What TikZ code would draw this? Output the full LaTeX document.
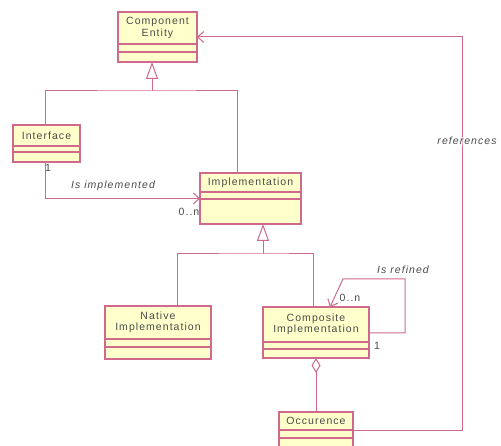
\documentclass[tikz,border=0pt]{standalone}
\usepackage{fontspec}
\setmainfont{Liberation Sans}[LetterSpace=10]
\usetikzlibrary{arrows.meta,calc}

\definecolor{umlline}{HTML}{D06A8C}
\definecolor{umlfill}{HTML}{FFFFCC}
\definecolor{umltext}{HTML}{4A4A4A}

\tikzset{
  clsbox/.style={draw=umlline, fill=umlfill, line width=1.1pt, inner sep=0pt, outer sep=0pt},
  clsline/.style={draw=umlline, line width=1.1pt},
  clstext/.style={text=umltext, font=\fontsize{10.5}{11.5}\selectfont, align=center, inner sep=0pt},
  conn/.style={draw=umlline, line width=1pt},
  tag/.style={text=umltext, font=\fontsize{10.5}{12}\selectfont, inner sep=0pt},
  roletag/.style={tag, font=\fontsize{10.5}{12}\selectfont\itshape},
  gentip/.style={-{Triangle[open, length=17pt, width=12pt, fill=white]}},
  navtip/.style={-{Straight Barb[length=6pt, width=11pt]}},
}

% #1 name, #2 left x, #3 top y, #4 width, #5 height,
% #6 and #7 offsets of the compartment rules from the top, #8 class name
\newcommand\umlclass[8]{%
  \node[clsbox, minimum width=#4pt, minimum height=#5pt, anchor=north west] (#1) at (#2,#3) {};
  \draw[clsline] ([yshift=-#6pt]#1.north west) -- ([yshift=-#6pt]#1.north east);
  \draw[clsline] ([yshift=-#7pt]#1.north west) -- ([yshift=-#7pt]#1.north east);
  \node[clstext] (#1-name) at ([yshift=-#6pt/2]#1.north) {#8};
}

\begin{document}
\begin{tikzpicture}[x=1pt, y=-1pt]
  \useasboundingbox (0,0) rectangle (501,446);
  \begin{scope}
  \clip (0,0) rectangle (501,446);

  % classes
  \umlclass{entity}{118}{12}{79}{50}{32}{40}{Component\\Entity}
  \umlclass{iface}{13}{125}{67}{37}{21}{27}{Interface}
  \umlclass{impl}{200}{173}{101}{51}{19}{26}{Implementation}
  \umlclass{native}{105}{306}{106}{53}{33}{41}{Native\\Implementation}
  \umlclass{comp}{263}{307}{106}{51}{35}{42}{Composite\\Implementation}
  \umlclass{occ}{279}{412}{74}{36}{18}{26}{Occurence}

  % generalization: Interface, Implementation -> Component Entity
  \coordinate (genA) at (152,91);
  \draw[conn] ([xshift=-1.5pt]iface.north) |- (genA) -| ([xshift=37pt]impl.north west);
  \draw[conn, gentip] (genA) -- ([xshift=-5.5pt]entity.south);

  % generalization: Native, Composite -> Implementation
  \coordinate (genB) at (263,254);
  \draw[conn] ([xshift=72pt]native.north west) |- (genB) -| ([xshift=-3pt]comp.north);
  \draw[conn, gentip] (genB) -- ([xshift=12.5pt]impl.south);

  % Interface "Is implemented" Implementation
  \draw[conn, navtip] ([xshift=-1.5pt]iface.south) |- (impl.west);
  \node[tag] (iface-mult) at (48,168) {1};
  \node[roletag] (impl-role) at (113,186) {Is implemented};
  \node[tag] (impl-mult) at (189,212) {0..n};

  % Composite "Is refined" self association
  \coordinate (loopA) at (405,333);
  \coordinate (loopB) at (405,279);
  \coordinate (loopC) at (343,279);
  \draw[conn, navtip] (comp.east |- loopA) -- (loopA) -- (loopB) -- (loopC)
    -- ([xshift=67pt]comp.north west);
  \node[roletag] (comp-role) at (403,270) {Is refined};
  \node[tag] (comp-many) at (350,298) {0..n};
  \node[tag] (comp-one) at (377,346) {1};

  % aggregation Composite <>- Occurence
  \draw[conn, {Diamond[open, length=15pt, width=9pt, fill=white]}-] (comp.south) -- (occ.north);

  % Occurence "references" Component Entity
  \coordinate (refA) at (462,430);
  \coordinate (refB) at (462,37);
  \draw[conn, navtip] (occ.east) -- (refA) -- (refB) -- (entity.east);
  \node[roletag, fill=white, fill opacity=0.5, text opacity=1] (ref-role) at (467,141) {references};
  \end{scope}
\end{tikzpicture}
\end{document}
